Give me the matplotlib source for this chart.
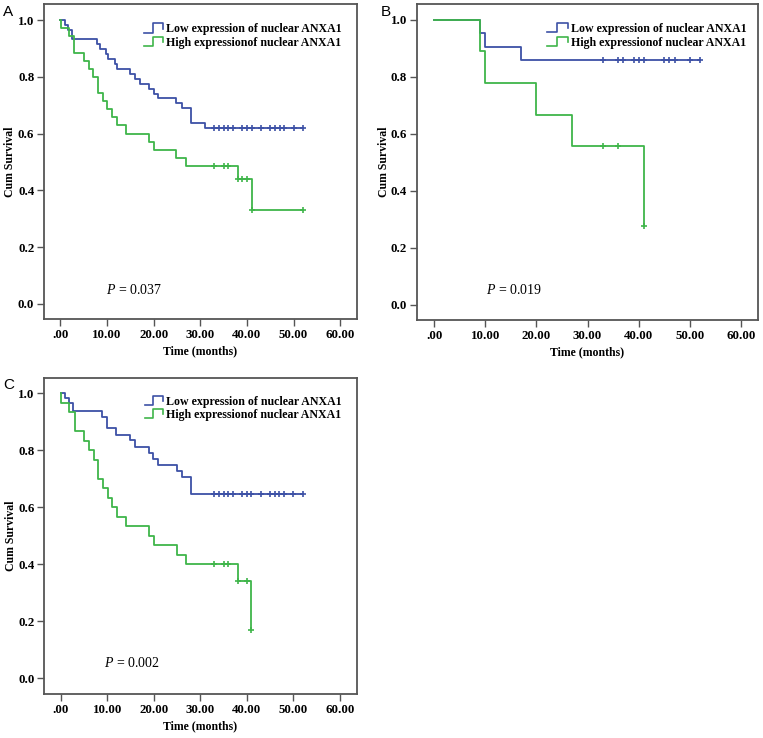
import matplotlib
matplotlib.use('Agg')
import matplotlib.pyplot as plt
import numpy as np

# ---- data ----
x_ticks = [0, 10, 20, 30, 40, 50, 60]
x_tick_labels = ['.00', '10.00', '20.00', '30.00', '40.00', '50.00', '60.00']
y_ticks = [0.0, 0.2, 0.4, 0.6, 0.8, 1.0]
y_tick_labels = ['0.0', '0.2', '0.4', '0.6', '0.8', '1.0']
legend_labels = ['Low expression of nuclear ANXA1', 'High expressionof nuclear ANXA1']

# panel A
a_low_t = [0.9, 1.7, 2.4, 7.9, 8.6, 9.7, 10.3, 11.7, 12.2, 15.0, 16.0, 17.0, 19.0, 20.0, 21.0, 24.9, 26.0, 28.0, 31.0]
a_low_s = [0.982, 0.965, 0.932, 0.915, 0.898, 0.880, 0.862, 0.845, 0.827, 0.810, 0.792, 0.775, 0.758, 0.741, 0.724, 0.707, 0.689, 0.638, 0.621]
a_low_cens = [33, 34, 35, 36, 37, 39, 40, 41, 43, 45, 46, 47, 48, 50, 52]
a_high_t = [0.1, 1.8, 3.0, 5.1, 6.1, 7.1, 8.1, 9.1, 10.1, 11.1, 12.1, 14.1, 19.0, 20.0, 24.9, 26.9, 38.0, 41.0]
a_high_s = [0.971, 0.943, 0.886, 0.857, 0.829, 0.800, 0.743, 0.714, 0.686, 0.657, 0.629, 0.600, 0.571, 0.543, 0.514, 0.486, 0.442, 0.331]
a_high_cens = [33, 35, 36, 38, 39, 40, 41, 52]

# panel B
b_low_t = [8.9, 10.0, 17.0]
b_low_s = [0.952, 0.905, 0.857]
b_low_cens = [33, 36, 37, 39, 40, 41, 45, 46, 47, 50, 52]
b_high_t = [8.9, 10.0, 20.0, 27.0, 41.0]
b_high_s = [0.889, 0.778, 0.667, 0.556, 0.278]
b_high_cens = [33, 36, 41]

# panel C
c_low_t = [0.9, 1.7, 2.6, 8.9, 9.9, 11.9, 14.9, 15.9, 18.9, 19.9, 20.9, 24.9, 26.0, 28.0]
c_low_s = [0.983, 0.966, 0.938, 0.917, 0.877, 0.855, 0.835, 0.813, 0.792, 0.771, 0.750, 0.729, 0.708, 0.646]
c_low_cens = [33, 34, 35, 36, 37, 39, 40, 41, 43, 45, 46, 47, 48, 50, 52]
c_high_t = [0.1, 1.9, 3.0, 5.1, 6.1, 7.1, 8.1, 9.1, 10.1, 11.1, 12.1, 14.1, 19.0, 20.0, 24.9, 26.9, 38.0, 41.0]
c_high_s = [0.967, 0.933, 0.867, 0.833, 0.800, 0.767, 0.700, 0.667, 0.633, 0.600, 0.567, 0.533, 0.500, 0.467, 0.433, 0.400, 0.343, 0.171]
c_high_cens = [33, 35, 36, 38, 40, 41]

p_values = ['0.037', '0.019', '0.002']

BLUE = '#3d51a6'
GREEN = '#3fb54a'
FRAME = '#555555'
SERIF = 'Liberation Serif'


def km_line(ax, t, s, cens, color):
    # step curve starting at 1.0 at time 0
    tt = [0.0] + list(t)
    ss = [1.0] + list(s)
    end = max(max(cens), tt[-1])
    tt.append(end)
    ss.append(ss[-1])
    ax.step(tt, ss, where='post', color=color, lw=1.3, zorder=3)
    # censored marks sit on the curve
    idx = np.searchsorted(tt[:-1], cens, side='right') - 1
    cy = [ss[i] for i in idx]
    ax.plot(cens, cy, ls='none', marker='+', ms=5, mew=1.2, color=color, zorder=4)


def legend_glyph(ax, x0, x1, y, color):
    # little step icon used by SPSS legends
    xm = x0 + (x1 - x0) * 0.45
    h = 0.018
    ax.plot([x0, xm, xm, x1, x1], [y - h * 0.6, y - h * 0.6, y + h, y + h, y + h * 0.1],
            transform=ax.transAxes, color=color, lw=1.2, clip_on=False)


def panel(rect, xlim, ylim, low, high, pval, ptxt_xy, leg_x, leg_y, letter, letter_xy, ylab_x):
    ax = fig.add_axes(rect)
    km_line(ax, *low, BLUE)
    km_line(ax, *high, GREEN)
    ax.set_xlim(*xlim)
    ax.set_ylim(*ylim)
    ax.set_xticks(x_ticks)
    ax.set_xticklabels(x_tick_labels)
    ax.set_yticks(y_ticks)
    ax.set_yticklabels(y_tick_labels)
    for sp in ax.spines.values():
        sp.set_color(FRAME)
        sp.set_linewidth(1.3)
    ax.tick_params(direction='out', length=5, width=1.0, color=FRAME, pad=2)
    for lab in ax.get_xticklabels() + ax.get_yticklabels():
        lab.set_fontfamily(SERIF)
        lab.set_fontweight('bold')
        lab.set_fontsize(9.3)
    ax.set_xlabel('Time (months)', fontfamily=SERIF, fontweight='bold', fontsize=8.5, labelpad=3)
    ax.set_ylabel('Cum Survival', fontfamily=SERIF, fontweight='bold', fontsize=8.5)
    ax.yaxis.set_label_coords(ylab_x, 0.5)
    # legend built by hand
    gx0 = leg_x - 0.068
    gx1 = leg_x - 0.008
    for lbl, col, yy in zip(legend_labels, [BLUE, GREEN], leg_y):
        legend_glyph(ax, gx0, gx1, yy, col)
        ax.text(leg_x, yy, lbl, transform=ax.transAxes, fontfamily=SERIF, fontweight='bold',
                fontsize=8.6, va='center', ha='left')
    ax.text(ptxt_xy[0], ptxt_xy[1], r'$\it{P}$ = ' + pval, fontfamily=SERIF, fontsize=10,
            va='bottom', ha='left')
    fig.text(letter_xy[0], letter_xy[1], letter, fontfamily='Liberation Sans', fontsize=11,
             va='top', ha='left')
    return ax


fig = plt.figure(figsize=(7.63, 7.38), dpi=100)
plt.rcParams['mathtext.fontset'] = 'custom'
plt.rcParams['mathtext.it'] = 'Liberation Serif:italic'
plt.rcParams['mathtext.rm'] = 'Liberation Serif'

panel([0.0577, 0.5678, 0.4102, 0.4264], (-3.5, 63.6), (-0.053, 1.056),
      (a_low_t, a_low_s, a_low_cens), (a_high_t, a_high_s, a_high_cens),
      p_values[0], (9.8, 0.025), 0.389, [0.921, 0.877], 'A', (0.004, 0.993), -0.088)
panel([0.5461, 0.5664, 0.4473, 0.4282], (-3.4, 63.3), (-0.053, 1.055),
      (b_low_t, b_low_s, b_low_cens), (b_high_t, b_high_s, b_high_cens),
      p_values[1], (10.1, 0.028), 0.451, [0.921, 0.878], 'B', (0.499, 0.993), -0.078)
panel([0.0581, 0.0596, 0.4094, 0.4286], (-3.5, 63.6), (-0.055, 1.055),
      (c_low_t, c_low_s, c_low_cens), (c_high_t, c_high_s, c_high_cens),
      p_values[2], (9.4, 0.03), 0.389, [0.924, 0.882], 'C', (0.004, 0.488), -0.088)

fig.savefig('out.png', dpi=100)
